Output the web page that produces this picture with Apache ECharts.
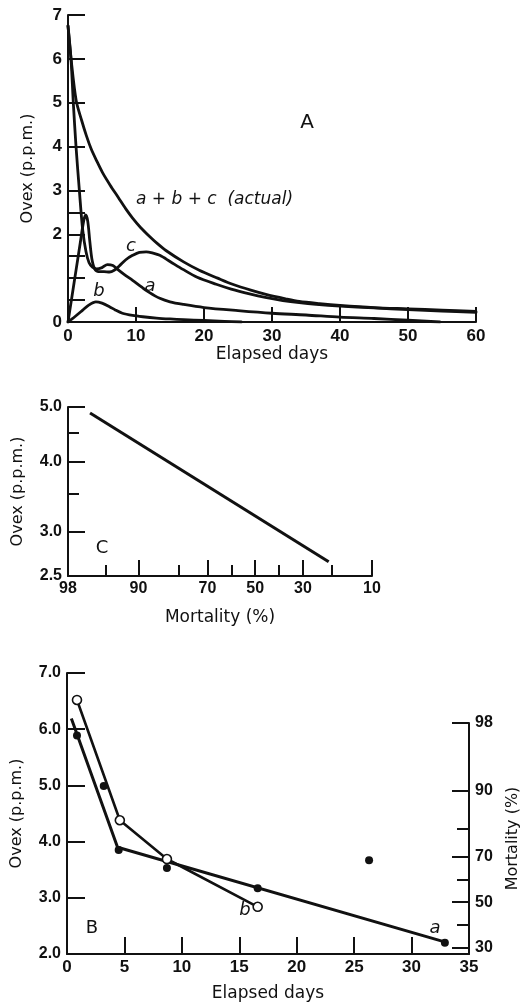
<!DOCTYPE html>
<html><head><meta charset="utf-8">
<script src="https://cdn.jsdelivr.net/npm/echarts@6/dist/echarts.min.js"></script>
<style>html,body{margin:0;padding:0;background:#fff}#c{width:524px;height:1005px}</style>
</head><body><div id="c"></div>
<script>
// ---------- Panel A data: Ovex residue (p.p.m.) vs elapsed days ----------
const curveActual = [[0,6.75],[0.45,6.0],[1.2,5.05],[2.0,4.6],[2.7,4.25],[3.4,3.95],[4.2,3.68],[5.1,3.4],[6.2,3.12],[7.4,2.84],[8.5,2.58],[9.5,2.37],[10.7,2.15],[12,1.95],[13.2,1.78],[14.4,1.63],[17,1.37],[19.3,1.18],[22,1.0],[24.2,0.86],[27,0.72],[29.1,0.63],[32,0.53],[34,0.47],[37,0.42],[40,0.38],[45,0.33],[50,0.3],[55,0.27],[60,0.24]];
const curveA = [[0,6.75],[0.44,6.0],[0.78,5.0],[1.18,4.0],[1.67,3.0],[2.16,2.1],[2.65,1.6],[3.1,1.35],[3.6,1.25],[4.2,1.21],[5.0,1.24],[5.8,1.31],[6.6,1.29],[7.3,1.2],[8.3,1.08],[9.5,0.95],[10.8,0.8],[12,0.67],[13.5,0.54],[15,0.46],[17,0.4],[20,0.33],[25,0.26],[30,0.2],[35,0.16],[40,0.11],[45,0.08],[50,0.04],[54.7,0]];
const curveC = [[0,0],[0.6,0.6],[1.2,1.2],[1.8,1.8],[2.3,2.3],[2.6,2.44],[2.9,2.3],[3.2,1.85],[3.5,1.45],[3.9,1.22],[4.5,1.15],[5.3,1.15],[6.1,1.14],[6.8,1.18],[7.5,1.27],[8.5,1.42],[9.5,1.52],[10.5,1.59],[11.5,1.6],[12.5,1.57],[13.5,1.52],[15,1.38],[16.9,1.2],[19,1.02],[21.8,0.86],[24,0.75],[26.7,0.64],[29,0.56],[31.6,0.49],[34,0.44],[36.5,0.4],[40,0.36],[45,0.32],[50,0.28],[55,0.25],[60,0.22]];
const curveB = [[0,0],[1,0.12],[2.16,0.27],[3,0.38],[4.1,0.46],[5,0.43],[6.1,0.35],[7,0.27],[8,0.2],[9.5,0.15],[11,0.12],[13,0.09],[15,0.07],[17,0.055],[20,0.035],[23,0.015],[25.5,0]];
const aYTicks = [0,0.5,1,1.5,2,2.5,3,4,5,6,7];
const aYLabels = [0,2,3,4,5,6,7];

// ---------- Panel C data: Ovex (log) vs mortality (probit) ----------
const cMortality = [96.5, 21];
const cOvex = [4.88, 2.65];
const cXMajor = [98,90,70,50,30,10];
const cXMinor = [95,80,60,40,20];
const cYMajor = [2.5,3.0,4.0,5.0];
const cYMinor = [3.5,4.5];

// ---------- Panel B data ----------
const bOpenDays = [0.87,4.6,8.7,16.6];
const bOpenOvex = [6.52,4.38,3.69,2.84];
const bFitDays = [0.38,4.4,32.8];
const bFitOvex = [6.19,3.9,2.22];
const bFilledDays = [0.87,3.2,4.5,8.7,16.6,26.3,32.9];
const bFilledOvex = [5.89,4.99,3.85,3.53,3.17,3.67,2.2];
const bRightMajor = [98,90,70,50,30];
const bRightMinor = [80,60,40];

// probit (inverse normal CDF, Acklam)
function probit(pp){
  const p = pp/100;
  const a=[-3.969683028665376e+01,2.209460984245205e+02,-2.759285104469687e+02,1.383577518672690e+02,-3.066479806614716e+01,2.506628277459239e+00];
  const b=[-5.447609879822406e+01,1.615858368580409e+02,-1.556989798598866e+02,6.680131188771972e+01,-1.328068155288572e+01];
  const c=[-7.784894002430293e-03,-3.223964580411365e-01,-2.400758277161838e+00,-2.549732539343734e+00,4.374664141464968e+00,2.938163982698783e+00];
  const d=[7.784695709041462e-03,3.224671290700398e-01,2.445134137142996e+00,3.754408661907416e+00];
  const pl=0.02425;
  let q,r;
  if(p<pl){q=Math.sqrt(-2*Math.log(p));return (((((c[0]*q+c[1])*q+c[2])*q+c[3])*q+c[4])*q+c[5])/((((d[0]*q+d[1])*q+d[2])*q+d[3])*q+1);}
  if(p<=1-pl){q=p-0.5;r=q*q;return (((((a[0]*r+a[1])*r+a[2])*r+a[3])*r+a[4])*r+a[5])*q/(((((b[0]*r+b[1])*r+b[2])*r+b[3])*r+b[4])*r+1);}
  q=Math.sqrt(-2*Math.log(1-p));return -(((((c[0]*q+c[1])*q+c[2])*q+c[3])*q+c[4])*q+c[5])/((((d[0]*q+d[1])*q+d[2])*q+d[3])*q+1);
}
const lg = Math.log10;
function pctLabel(list){ return v => { for(const p of list){ if(Math.abs(probit(p)-v)<1e-6) return String(p);} return ''; }; }

const FONT = 'Liberation Sans';
const NAMEFONT = 'DejaVu Sans';
const BLACK = '#111';
function axis(o){
  const base = {
    type:'value',
    axisLine:{show:true,onZero:false,lineStyle:{color:BLACK,width:2}},
    splitLine:{show:false},
    axisTick:{show:true,inside:true,length:16,lineStyle:{color:BLACK,width:2}},
    axisLabel:{color:BLACK,fontFamily:FONT,fontWeight:'bold',fontSize:15,margin:6},
    nameLocation:'middle',
    nameTextStyle:{color:BLACK,fontFamily:NAMEFONT,fontSize:17}
  };
  const r = Object.assign({}, base, o);
  if(o.axisTick) r.axisTick = Object.assign({}, base.axisTick, o.axisTick);
  if(o.axisLabel) r.axisLabel = Object.assign({}, base.axisLabel, o.axisLabel);
  if(o.axisLine) r.axisLine = Object.assign({}, base.axisLine, o.axisLine);
  if(o.nameTextStyle) r.nameTextStyle = Object.assign({}, base.nameTextStyle, o.nameTextStyle);
  return r;
}

const zMin = probit(10), zMax = probit(98);
const zBottomB = -0.593;

const chart = echarts.init(document.getElementById('c'), null, {renderer:'canvas'});
const lineCurve = (data) => ({type:'line',xAxisIndex:0,yAxisIndex:0,data,symbol:'none',smooth:0.3,lineStyle:{color:BLACK,width:2.8,join:'round',cap:'round'},silent:true});

const option = {
  animation:false,
  backgroundColor:'#fff',
  grid:[
    {left:68,top:15,width:408,height:307,containLabel:false,outerBoundsMode:'none'},
    {left:68,top:407,width:304,height:169,containLabel:false,outerBoundsMode:'none'},
    {left:67,top:673,width:402,height:281,containLabel:false,outerBoundsMode:'none'},
    {left:67,top:723,width:402,height:231,containLabel:false,outerBoundsMode:'none'}
  ],
  xAxis:[
    axis({gridIndex:0,min:0,max:60,interval:10,name:'Elapsed days',nameGap:22,axisTick:{length:15},axisLabel:{fontSize:17,margin:6}}),
    axis({gridIndex:1,position:'bottom',min:zMin,max:zMax,inverse:true,name:'Mortality (%)',nameGap:33,
      axisTick:{length:16,customValues:cXMajor.map(probit)},
      axisLabel:{fontSize:16,margin:5,customValues:cXMajor.map(probit),formatter:pctLabel(cXMajor)}}),
    axis({gridIndex:1,position:'bottom',offset:0,min:zMin,max:zMax,inverse:true,axisLine:{show:false},
      axisTick:{length:11,customValues:cXMinor.map(probit)},axisLabel:{show:false}}),
    axis({gridIndex:2,min:0,max:35,interval:5,name:'Elapsed days',nameGap:31,axisTick:{length:17},axisLabel:{fontSize:17,margin:5}}),
    {type:'value',gridIndex:3,min:0,max:35,show:false}
  ],
  yAxis:[
    axis({gridIndex:0,min:0,max:7,name:'Ovex (p.p.m.)',nameGap:32,nameRotate:90,nameTextStyle:{fontSize:16},
      axisTick:{length:17,customValues:aYTicks},
      axisLabel:{fontSize:17,customValues:aYLabels}}),
    axis({gridIndex:1,position:'left',min:lg(2.5),max:lg(5),name:'Ovex (p.p.m.)',nameGap:42,nameRotate:90,nameTextStyle:{fontSize:16},
      axisTick:{length:17,customValues:cYMajor.map(lg)},
      axisLabel:{fontSize:16,customValues:cYMajor.map(lg),formatter:v=>Math.pow(10,v).toFixed(1)}}),
    axis({gridIndex:1,position:'left',offset:0,min:lg(2.5),max:lg(5),axisLine:{show:false},
      axisTick:{length:11,customValues:cYMinor.map(lg)},axisLabel:{show:false}}),
    axis({gridIndex:2,min:2,max:7,interval:1,name:'Ovex (p.p.m.)',nameGap:42,nameRotate:90,nameTextStyle:{fontSize:16},
      axisTick:{length:18},axisLabel:{fontSize:16,formatter:v=>v.toFixed(1)}}),
    axis({gridIndex:3,position:'right',min:zBottomB,max:zMax,name:'Mortality (%)',nameGap:36,nameRotate:90,nameTextStyle:{fontSize:16},
      axisTick:{length:17,customValues:bRightMajor.map(probit)},
      axisLabel:{fontSize:16,customValues:bRightMajor.map(probit),formatter:pctLabel(bRightMajor)}}),
    axis({gridIndex:3,position:'right',offset:0,min:zBottomB,max:zMax,axisLine:{show:false},
      axisTick:{length:12,customValues:bRightMinor.map(probit)},axisLabel:{show:false}})
  ],
  series:[
    lineCurve(curveActual),
    lineCurve(curveA),
    lineCurve(curveC),
    lineCurve(curveB),
    {type:'line',xAxisIndex:1,yAxisIndex:1,symbol:'none',
      data:cMortality.map((m,i)=>[probit(m),lg(cOvex[i])]),lineStyle:{color:BLACK,width:3}},
    {type:'line',xAxisIndex:3,yAxisIndex:3,symbol:'none',
      data:bFitDays.map((d,i)=>[d,bFitOvex[i]]),lineStyle:{color:BLACK,width:3},z:2},
    {type:'scatter',xAxisIndex:3,yAxisIndex:3,symbol:'circle',symbolSize:8,
      data:bFilledDays.map((d,i)=>[d,bFilledOvex[i]]),itemStyle:{color:BLACK,opacity:1},z:3},
    {type:'line',xAxisIndex:3,yAxisIndex:3,symbol:'circle',symbolSize:9,showAllSymbol:true,
      data:bOpenDays.map((d,i)=>[d,bOpenOvex[i]]),lineStyle:{color:BLACK,width:2.6},
      itemStyle:{color:'#fff',borderColor:BLACK,borderWidth:1.6,opacity:1},z:4}
  ],
  graphic:[
    {type:'text',x:307,y:123,style:{text:'A',font:'20px "DejaVu Sans"',fill:BLACK,textAlign:'center',textVerticalAlign:'middle'}},
    {type:'text',x:136,y:200,style:{text:'a + b + c  (actual)',font:'italic 17px "DejaVu Sans"',fill:BLACK,textAlign:'left',textVerticalAlign:'middle'}},
    {type:'text',x:131,y:246,style:{text:'c',font:'italic 18px "DejaVu Sans"',fill:BLACK,textAlign:'center',textVerticalAlign:'middle'}},
    {type:'text',x:150,y:286,style:{text:'a',font:'italic 18px "DejaVu Sans"',fill:BLACK,textAlign:'center',textVerticalAlign:'middle'}},
    {type:'text',x:99,y:291,style:{text:'b',font:'italic 18px "DejaVu Sans"',fill:BLACK,textAlign:'center',textVerticalAlign:'middle'}},
    {type:'text',x:102,y:548,style:{text:'C',font:'18px "DejaVu Sans"',fill:BLACK,textAlign:'center',textVerticalAlign:'middle'}},
    {type:'text',x:92,y:928,style:{text:'B',font:'18px "DejaVu Sans"',fill:BLACK,textAlign:'center',textVerticalAlign:'middle'}},
    {type:'text',x:245,y:910,style:{text:'b',font:'italic 18px "DejaVu Sans"',fill:BLACK,textAlign:'center',textVerticalAlign:'middle'}},
    {type:'text',x:435,y:928,style:{text:'a',font:'italic 18px "DejaVu Sans"',fill:BLACK,textAlign:'center',textVerticalAlign:'middle'}}
  ]
};
chart.setOption(option);
</script>
</body></html>
